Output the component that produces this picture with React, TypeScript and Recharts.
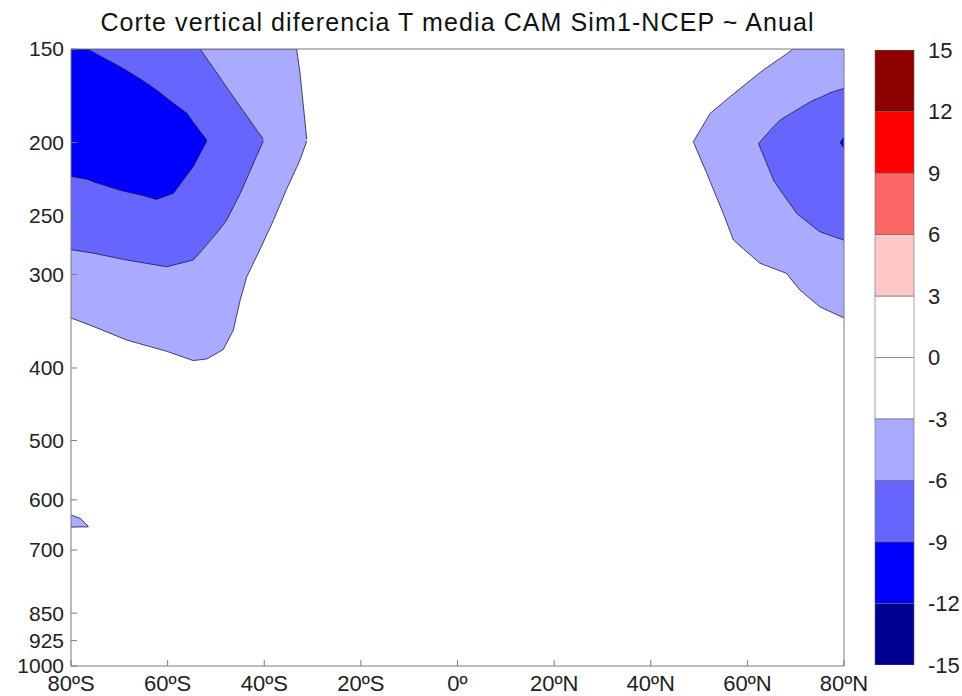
import React from 'react';
import { ComposedChart, Area, XAxis, YAxis, BarChart, Bar } from 'recharts';

const titleText = 'Corte vertical diferencia T media CAM Sim1-NCEP ~ Anual';

const latTicks = [-80, -60, -40, -20, 0, 20, 40, 60, 80];
const latLabels = ['80ºS', '60ºS', '40ºS', '20ºS', '0º', '20ºN', '40ºN', '60ºN', '80ºN'];
const pressureTicks = [150, 200, 250, 300, 400, 500, 600, 700, 850, 925, 1000];

// Filled contour regions: [latitude, pressure at upper edge, pressure at lower edge]
const southLight: [number, number, number][] = [
  [-80, 150, 343], [-75.4, 150, 352], [-68.5, 150, 367], [-60.2, 150, 380], [-54.7, 150, 391],
  [-51.9, 150, 389], [-48.5, 150, 378], [-46.4, 150, 356], [-45.0, 150, 325], [-43.6, 150, 302],
  [-40.9, 150, 278], [-38.1, 150, 254], [-35.4, 150, 231], [-33.3, 150, 216], [-32.6, 161.5, 211],
  [-31.2, 198, 199],
];
const southMedium: [number, number, number][] = [
  [-80, 150, 278], [-75.4, 150, 281], [-68.5, 150, 287], [-60.2, 150, 293], [-54.7, 150, 287],
  [-53.3, 150, 280.5], [-49.8, 161.5, 264], [-47.8, 168.7, 254], [-45.0, 179, 234], [-40.2, 198, 199],
];
const southDark: [number, number, number][] = [
  [-80, 150, 222], [-76.5, 150, 224], [-75.4, 151.5, 225.6], [-69.9, 158.3, 231.5], [-68.5, 160.3, 232.7],
  [-65, 165.5, 235.5], [-62.3, 170.2, 238.2], [-58.8, 177.2, 233.8], [-56.0, 182.8, 221],
  [-54.7, 187.9, 215.4], [-51.9, 198.4, 199],
];
const southBlob: [number, number, number][] = [
  [-80, 628.6, 652.5], [-78.1, 635, 652], [-76.4, 651, 652],
];
const northLight: [number, number, number][] = [
  [48.8, 199.5, 199.5], [51.6, 186, 219.8], [52.3, 182.8, 225.5], [55.0, 176.8, 248.6],
  [56.4, 173.7, 262.5], [57.1, 172.3, 269.9], [62.6, 161.3, 289.9], [63.3, 160, 291],
  [68.1, 152.3, 299], [69.5, 150, 307], [70.9, 150, 314.8], [75.0, 150, 331.4], [80, 150, 343],
];
const northMedium: [number, number, number][] = [
  [62.3, 200.5, 200.5], [65.4, 190.6, 224.4], [66.8, 186.6, 231.5], [70.2, 180.9, 248.6],
  [73.7, 175.5, 259.2], [75.0, 174.2, 263.1], [77.1, 171.6, 266], [80, 169.3, 270],
];
const northDark: [number, number, number][] = [
  [79.2, 200, 200], [80, 196.5, 203.5],
];

// Colour bar levels and colours
const cbLevels = [-15, -12, -9, -6, -3, 0, 3, 6, 9, 12, 15];
const cbColors = ['#000090', '#0000ff', '#6666ff', '#aaaaff', '#ffffff', '#ffffff', '#ffc8c8', '#ff6666', '#ff0000', '#8c0000'];

const LIGHT = cbColors[3];
const MEDIUM = cbColors[2];
const DARK = cbColors[1];

const regions = [
  { key: 'sLight', rows: southLight, color: LIGHT },
  { key: 'sMedium', rows: southMedium, color: MEDIUM },
  { key: 'sDark', rows: southDark, color: DARK },
  { key: 'sBlob', rows: southBlob, color: LIGHT },
  { key: 'nLight', rows: northLight, color: LIGHT },
  { key: 'nMedium', rows: northMedium, color: MEDIUM },
  { key: 'nDark', rows: northDark, color: DARK },
];

const byLat = new Map<number, any>();
for (const r of regions) {
  for (const [lat, top, bot] of r.rows) {
    const row = byLat.get(lat) ?? { lat };
    row[r.key] = [bot, top];
    byLat.set(lat, row);
  }
}
const table = Array.from(byLat.values()).sort((a, b) => a.lat - b.lat);

const cbBands = cbLevels.slice(0, -1).map((lo, i) => ({ key: 'b' + i, lo, hi: cbLevels[i + 1], color: cbColors[i] }));
const cbRow: any = { name: 'T' };
cbBands.forEach((b) => {
  cbRow[b.key] = b.lo >= 0 ? b.hi - b.lo : b.lo - b.hi;
});
const cbOrder = [...cbBands.filter((b) => b.hi <= 0).reverse(), ...cbBands.filter((b) => b.lo >= 0)];

const FONT = '"Liberation Sans", Arial, Helvetica, sans-serif';
const tickStyle = { fontSize: 22, fill: '#222', fontFamily: FONT };
const yTickStyle = { fontSize: 21, fill: '#222', fontFamily: FONT };
const AXIS_COLOR = '#7a7a7a';

export default function App() {
  return (
    <div style={{ position: 'absolute', left: 0, top: 0, width: 962, height: 696, background: '#fff' }}>
      <div
        style={{
          position: 'absolute',
          left: 0,
          width: 915,
          top: 10,
          textAlign: 'center',
          fontFamily: FONT,
          fontSize: 25,
          lineHeight: '25px',
          letterSpacing: '1.1px',
          color: '#111',
          whiteSpace: 'nowrap',
        }}
      >
        {titleText}
      </div>
      <div style={{ position: 'absolute', left: 0, top: 0 }}>
        <ComposedChart
          width={962}
          height={696}
          data={table}
          margin={{ top: 48, right: 117, bottom: 0, left: 11 }}
        >
          <XAxis
            dataKey="lat"
            type="number"
            domain={[-80, 80]}
            ticks={latTicks}
            interval={0}
            allowDataOverflow
            tickFormatter={(v: number) => latLabels[latTicks.indexOf(v)] ?? String(v)}
            tick={tickStyle}
            tickSize={-6}
            tickMargin={15}
            height={30}
            stroke={AXIS_COLOR}
          />
          <XAxis
            xAxisId="top"
            orientation="top"
            dataKey="lat"
            type="number"
            domain={[-80, 80]}
            ticks={latTicks}
            interval={0}
            allowDataOverflow
            tick={false}
            tickSize={-6}
            height={1}
            stroke={AXIS_COLOR}
          />
          <YAxis
            type="number"
            scale="log"
            reversed
            domain={[150, 1000]}
            allowDataOverflow
            ticks={pressureTicks}
            interval={0}
            tick={yTickStyle}
            tickSize={-6}
            tickMargin={13}
            width={60}
            stroke={AXIS_COLOR}
          />
          <YAxis
            yAxisId="right"
            orientation="right"
            type="number"
            scale="log"
            reversed
            domain={[150, 1000]}
            allowDataOverflow
            ticks={pressureTicks}
            interval={0}
            tick={false}
            tickSize={-6}
            width={1}
            stroke={AXIS_COLOR}
          />
          {regions.map((r) => (
            <Area
              key={r.key}
              dataKey={r.key}
              type="linear"
              fill={r.color}
              fillOpacity={1}
              stroke="#1a1a40"
              strokeWidth={0.8}
              connectNulls
              dot={false}
              activeDot={false}
              isAnimationActive={false}
            />
          ))}
        </ComposedChart>
      </div>
      <div style={{ position: 'absolute', left: 850, top: 0 }}>
        <BarChart
          width={112}
          height={696}
          data={[cbRow]}
          stackOffset="sign"
          barCategoryGap={0}
          margin={{ top: 50, right: 0, bottom: 31, left: 25 }}
        >
          <XAxis dataKey="name" hide />
          <YAxis
            orientation="right"
            type="number"
            domain={[-15, 15]}
            ticks={cbLevels}
            interval={0}
            allowDataOverflow
            tickLine={false}
            axisLine={false}
            tickMargin={8}
            tick={tickStyle}
            width={48}
          />
          {cbOrder.map((b) => (
            <Bar
              key={b.key}
              dataKey={b.key}
              stackId="cb"
              fill={b.color}
              stroke="#666"
              strokeWidth={0.6}
              isAnimationActive={false}
            />
          ))}
        </BarChart>
      </div>
    </div>
  );
}
